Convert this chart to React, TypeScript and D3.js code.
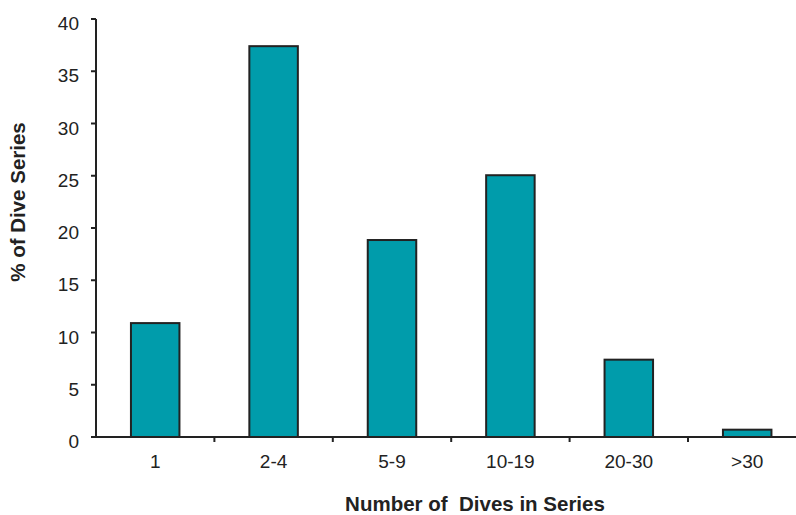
import React from "react";
import * as d3 from "d3";

const categories = ["1", "2-4", "5-9", "10-19", "20-30", ">30"];
const values = [10.9, 37.4, 18.85, 25.05, 7.4, 0.7];
const yTicks = [0, 5, 10, 15, 20, 25, 30, 35, 40];

export default function App() {
  const W = 796, H = 515;
  const x0 = 96, y0 = 437, yTop = 19;
  const bandW = 118.4;
  const x = d3.scaleBand<string>().domain(categories).range([x0, x0 + bandW * categories.length]).paddingInner(0).paddingOuter(0);
  const y = d3.scaleLinear().domain([0, 40]).range([y0, yTop]);
  const barW = 48.5;
  const font = "'Liberation Sans', Arial, sans-serif";
  return (
    <svg width={W} height={H} style={{ position: "absolute", left: 0, top: 0, background: "#fff" }} fontFamily={font}>
      {values.map((v, i) => {
        const c = categories[i];
        const cx = (x(c) as number) + x.bandwidth() / 2;
        return (
          <rect key={c} x={cx - barW / 2} y={y(v)} width={barW} height={y0 - y(v)} fill="#009cab" stroke="#222" strokeWidth={2} />
        );
      })}
      {/* y axis */}
      <line x1={x0} x2={x0} y1={yTop} y2={y0} stroke="#222" strokeWidth={2} />
      {yTicks.map((t) => (
        <g key={t}>
          <line x1={x0 - 5} x2={x0} y1={y(t)} y2={y(t)} stroke="#222" strokeWidth={2} />
          <text x={x0 - 17} y={y(t) + 11} textAnchor="end" fontSize={19} fill="#222">{t}</text>
        </g>
      ))}
      {/* x axis */}
      <line x1={x0 - 5} x2={W} y1={y0} y2={y0} stroke="#222" strokeWidth={2} />
      {categories.map((c, i) => (
        <g key={c}>
          {i > 0 && <line x1={x(c) as number} x2={x(c) as number} y1={y0} y2={y0 + 5} stroke="#222" strokeWidth={2} />}
          <text x={(x(c) as number) + x.bandwidth() / 2} y={468} textAnchor="middle" fontSize={19} fill="#222">{c}</text>
        </g>
      ))}
      <text x={475} y={511} textAnchor="middle" fontSize={20.5} fontWeight="bold" fill="#222" style={{ whiteSpace: "pre" }}>{"Number of  Dives in Series"}</text>
      <text transform={`translate(25,202) rotate(-90)`} textAnchor="middle" fontSize={20.5} fontWeight="bold" fill="#222">% of Dive Series</text>
    </svg>
  );
}
